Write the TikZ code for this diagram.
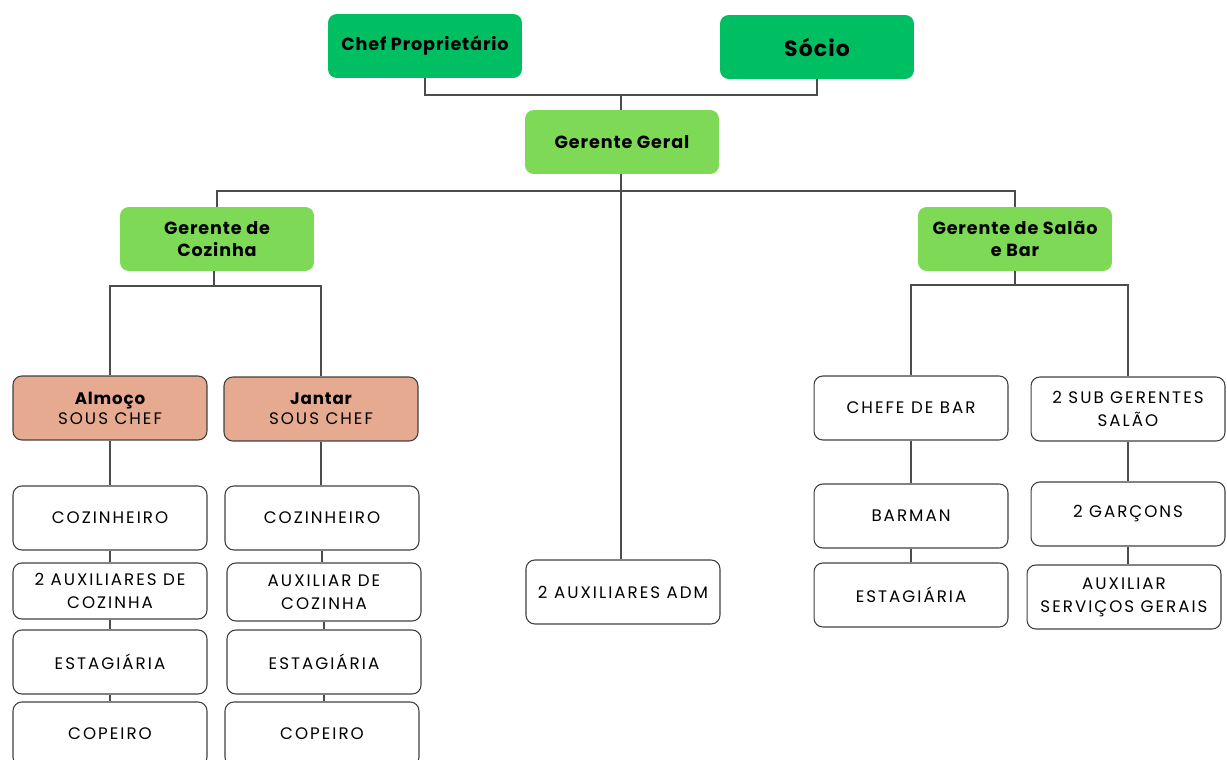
\documentclass[tikz,border=0pt]{standalone}
\usepackage{fontspec}
\setmainfont{Poppins}
\newfontfamily\capsfont{Poppins}[LetterSpace=12]
\newfontfamily\labelfont{Poppins}[LetterSpace=5]
\usetikzlibrary{positioning}
\definecolor{OwnerGreen}{HTML}{00BF63}
\definecolor{ManagerGreen}{HTML}{7ED957}
\definecolor{SousSalmon}{HTML}{E5AA90}
\tikzset{
  orgline/.style={draw=gray!60!black, line width=0.6pt},
  boxbase/.style={rounded corners=5pt, align=center, minimum width=3.88cm,
    minimum height=1.28cm, inner sep=2pt}
}

\begin{document}
\begin{tikzpicture}[
  x=0.02cm, y=-0.02cm,
  ownerbox/.style={boxbase, fill=OwnerGreen, font=\labelfont\bfseries\fontsize{10}{13}\selectfont},
  mgrbox/.style={boxbase, fill=ManagerGreen, font=\labelfont\bfseries\fontsize{10}{13}\selectfont},
  sousbox/.style={boxbase, fill=SousSalmon, draw=black!75, line width=0.6pt, font=\fontsize{9.5}{11.5}\selectfont},
  rolebox/.style={boxbase, fill=white, draw=black!75, line width=0.6pt, font=\capsfont\fontsize{9.5}{13}\selectfont}
]
\clip (0,0) rectangle (1227,760);
\useasboundingbox (0,0) rectangle (1227,760);

\coordinate (topjoin) at (621,95);
\coordinate (mgrjoin) at (621,191);
\coordinate (kitjoin) at (214,286);
\coordinate (salonjoin) at (1015,285);

\node[ownerbox] at (425,46) (owner) {Chef Proprietário};
\node[ownerbox, font=\labelfont\bfseries\fontsize{12.5}{14}\selectfont] at (817,47) (socio) {Sócio};
\node[mgrbox] at (622,142) (gg) {Gerente Geral};

\node[mgrbox] at (217,239) (gcoz) {Gerente de\\Cozinha};
\node[mgrbox] at (1015,239) (gsal) {Gerente de Salão\\e Bar};
\node[rolebox] at (623,592) (adm) {2 AUXILIARES ADM};

\node[sousbox] at (110,408) (almoco) {\labelfont\bfseries Almoço\\\capsfont SOUS CHEF};
\node[sousbox] at (321,409) (jantar) {\labelfont\bfseries Jantar\\\capsfont SOUS CHEF};

\node[rolebox] at (110,518) (coza) {COZINHEIRO};
\node[rolebox, minimum height=1.12cm] at (110,591) (auxa) {2 AUXILIARES DE\\COZINHA};
\node[rolebox] at (110,662) (esta) {ESTAGIÁRIA};
\node[rolebox] at (110,734) (copa) {COPEIRO};

\node[rolebox] at (322,518) (cozj) {COZINHEIRO};
\node[rolebox, minimum height=1.16cm] at (324,592) (auxj) {AUXILIAR DE\\COZINHA};
\node[rolebox] at (324,662) (estj) {ESTAGIÁRIA};
\node[rolebox] at (322,734) (copj) {COPEIRO};

\node[rolebox] at (911,408) (chefebar) {CHEFE DE BAR};
\node[rolebox] at (911,516) (barman) {BARMAN};
\node[rolebox] at (911,595) (estbar) {ESTAGIÁRIA};

\node[rolebox] at (1128,409) (subger) {2 SUB GERENTES\\SALÃO};
\node[rolebox] at (1128,514) (garcons) {2 GARÇONS};
\node[rolebox] at (1124,597) (auxsg) {AUXILIAR\\SERVIÇOS GERAIS};

\draw[orgline] (owner.south) |- (topjoin) -| (socio.south);
\draw[orgline] (topjoin) -- (topjoin |- gg.north);
\draw[orgline] (mgrjoin |- gg.south) -- (mgrjoin);
\draw[orgline] (gcoz.north) |- (mgrjoin) -| (gsal.north);
\draw[orgline] (mgrjoin) -- (mgrjoin |- adm.north);

\draw[orgline] (kitjoin |- gcoz.south) -- (kitjoin);
\draw[orgline] (almoco.north) |- (kitjoin) -| (jantar.north);
\draw[orgline] (gsal.south) -- (salonjoin);
\draw[orgline] (chefebar.north) |- (salonjoin) -| (subger.north);

\foreach \a/\b in {almoco/coza, coza/auxa, auxa/esta, esta/copa,
                   jantar/cozj, cozj/auxj, auxj/estj, estj/copj,
                   chefebar/barman, barman/estbar, subger/garcons, garcons/auxsg}
  \draw[orgline] (\a.south) -- (\a.south |- \b.north);
\end{tikzpicture}
\end{document}
